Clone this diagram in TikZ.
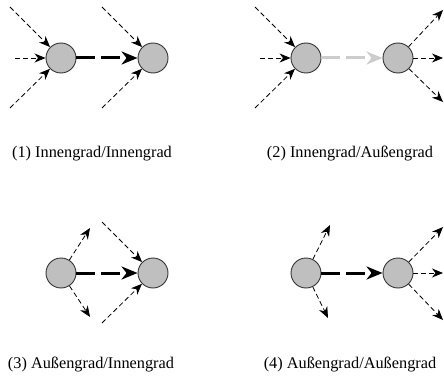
\documentclass[tikz,border=0pt]{standalone}
\usepackage{fontspec}
\setmainfont{Liberation Serif}
\usetikzlibrary{arrows.meta}

\begin{document}
\begin{tikzpicture}[x=1pt, y=-1pt,
	knoten/.style={circle, minimum size=30pt, inner sep=0pt, fill=black!25, draw=black!80, line width=0.9pt},
	kante/.style={line width=0.8pt, dash pattern=on 5pt off 3pt, -{Stealth[length=11pt, width=9pt, inset=3.5pt]}},
	haupt/.style={line width=3pt, dash pattern=on 19pt off 6pt, -{Stealth[length=16pt, width=13pt, inset=5pt]}},
	blass/.style={haupt, draw=black!20},
	titel/.style={font=\fontsize{16.3}{19}\selectfont}]
			\useasboundingbox (0,0) rectangle (444,377);
			% (1) Innengrad/Innengrad
			\node[knoten] (a1) at (61,58) {};
			\node[knoten] (b1) at (153,58) {};
			\coordinate (a1o) at (10,7);
			\coordinate (a1m) at (15,58);
			\coordinate (a1u) at (10,108);
			\coordinate (b1o) at (102,7);
			\coordinate (b1u) at (102,108);
			\draw[kante] (a1o) -- (a1);
			\draw[kante] (a1m) -- (a1);
			\draw[kante] (a1u) -- (a1);
			\draw[kante] (b1o) -- (b1);
			\draw[kante] (b1u) -- (b1);
			\draw[haupt] (a1) -- (b1);
			\node[titel] (t1) at (92,154) {(1) Innengrad/Innengrad};
			% (2) Innengrad/Aussengrad
			\node[knoten] (a2) at (306,58) {};
			\node[knoten] (b2) at (398,58) {};
			\coordinate (a2o) at (255,7);
			\coordinate (a2m) at (260,58);
			\coordinate (a2u) at (255,108);
			\coordinate (b2o) at (443,10);
			\coordinate (b2m) at (443,58);
			\coordinate (b2u) at (443,102);
			\draw[kante] (a2o) -- (a2);
			\draw[kante] (a2m) -- (a2);
			\draw[kante] (a2u) -- (a2);
			\draw[kante] (b2) -- (b2o);
			\draw[kante] (b2) -- (b2m);
			\draw[kante] (b2) -- (b2u);
			\draw[blass] (a2) -- (b2);
			\node[titel] (t2) at (350,154) {(2) Innengrad/Außengrad};
			% (3) Aussengrad/Innengrad
			\node[knoten] (a3) at (61,273) {};
			\node[knoten] (b3) at (153,273) {};
			\coordinate (a3o) at (90,228);
			\coordinate (a3u) at (90,317);
			\coordinate (b3o) at (102,222);
			\coordinate (b3u) at (102,323);
			\draw[kante] (a3) -- (a3o);
			\draw[kante] (a3) -- (a3u);
			\draw[kante] (b3o) -- (b3);
			\draw[kante] (b3u) -- (b3);
			\draw[haupt] (a3) -- (b3);
			\node[titel] (t3) at (91,365) {(3) Außengrad/Innengrad};
			% (4) Aussengrad/Aussengrad
			\node[knoten] (a4) at (306,273) {};
			\node[knoten] (b4) at (398,273) {};
			\coordinate (a4o) at (330,225);
			\coordinate (a4u) at (328,318);
			\coordinate (b4o) at (443,227);
			\coordinate (b4m) at (443,273);
			\coordinate (b4u) at (443,320);
			\draw[kante] (a4) -- (a4o);
			\draw[kante] (a4) -- (a4u);
			\draw[kante] (b4) -- (b4o);
			\draw[kante] (b4) -- (b4m);
			\draw[kante] (b4) -- (b4u);
			\draw[haupt] (a4) -- (b4);
			\node[titel] (t4) at (350,365) {(4) Außengrad/Außengrad};
\end{tikzpicture}
\end{document}
